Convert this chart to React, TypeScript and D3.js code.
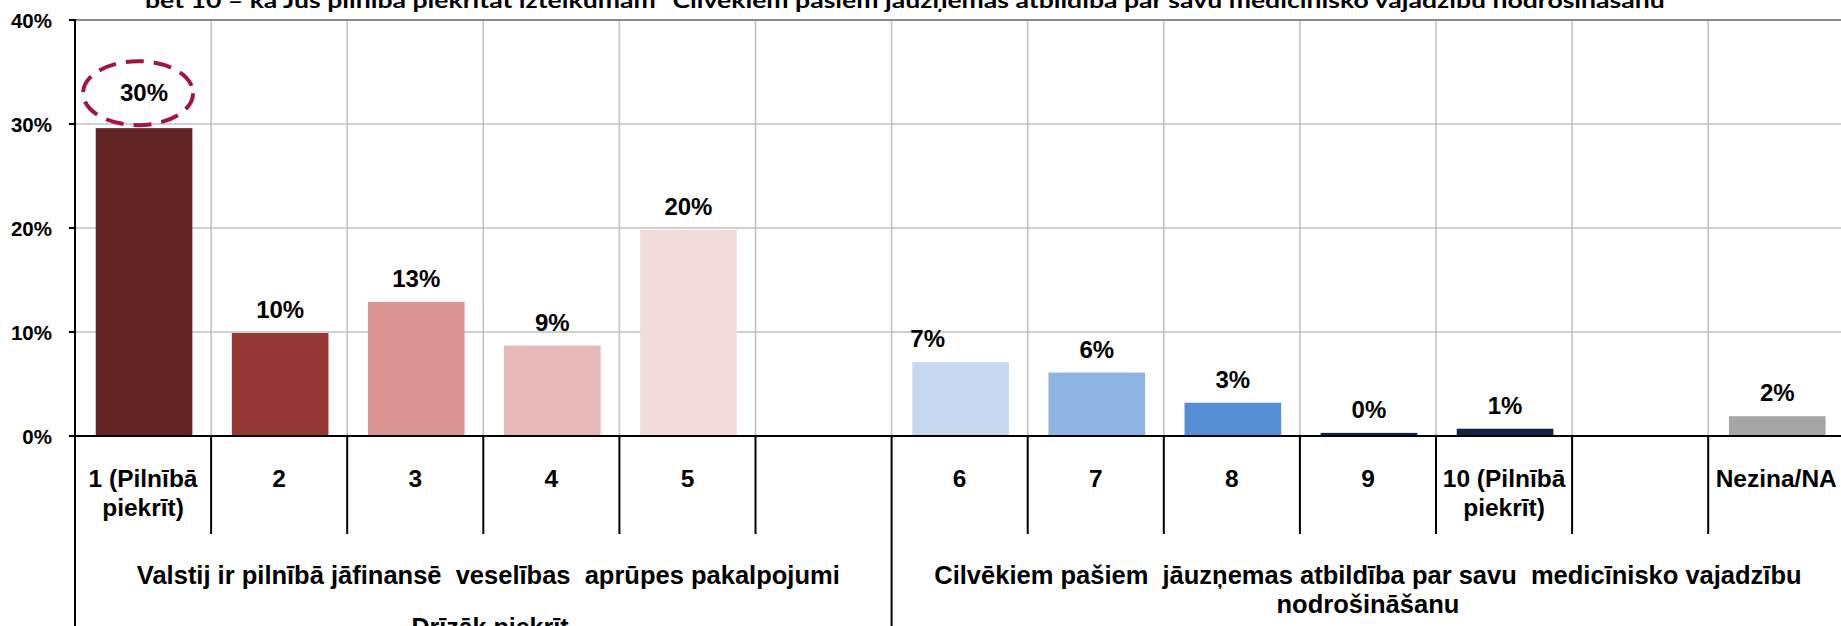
import React from "react";
import * as d3 from "d3";

const categoryKeys = ["1", "2", "3", "4", "5", "gap1", "6", "7", "8", "9", "10", "gap2", "NA"];
const categoryLines: string[][] = [
  ["1 (Pilnībā", "piekrīt)"], ["2"], ["3"], ["4"], ["5"], [],
  ["6"], ["7"], ["8"], ["9"], ["10 (Pilnībā", "piekrīt)"], [], ["Nezina/NA"],
];
const values: (number | null)[] = [29.6, 9.9, 12.9, 8.7, 19.8, null, 7.1, 6.1, 3.2, 0.3, 0.7, null, 1.9];
const valueLabels = ["30%", "10%", "13%", "9%", "20%", "", "7%", "6%", "3%", "0%", "1%", "", "2%"];
const barColors = ["#632523", "#953735", "#D99694", "#E6B9B8", "#F2DCDB", "none", "#C6D9F1", "#8EB4E3", "#558ED5", "#10253F", "#10253F", "none", "#A6A6A6"];
const yTicks = [0, 10, 20, 30, 40];
const groups = [
  { from: 0, to: 6, lines: ["Valstij ir pilnībā jāfinansē  veselības  aprūpes pakalpojumi"] },
  { from: 6, to: 13, lines: ["Cilvēkiem pašiem  jāuzņemas atbildība par savu  medicīnisko vajadzību", "nodrošināšanu"] },
];
const subGroupLabel = "Drīzāk piekrīt";
const titleText = "bet 10 – ka Jūs pilnībā piekrītat izteikumam “Cilvēkiem pašiem jāuzņemas atbildība par savu medicīnisko vajadzību nodrošināšanu”";
const highlightIndex = 0;
const shiftedLabelIndex = 6;

const W = 1841;
const H = 626;
const FONT = "'Liberation Sans', Arial, sans-serif";

export default function App() {
  const left = 75;
  const catW = 136.1;
  const x = d3.scaleBand<string>().domain(categoryKeys).range([left, left + catW * categoryKeys.length]).padding(0);
  const y = d3.scaleLinear().domain([0, 40]).range([436, 20]);
  const bw = x.bandwidth() * 0.71;
  const zeroY = y(0);
  const topY = y(40);
  const sepBottom = 534;
  const boundaries = d3.range(categoryKeys.length + 1).map((k) => left + k * x.step());

  return (
    <div style={{ position: "fixed", left: 0, top: 0, width: W, height: H, background: "#fff" }}>
      <svg width={W} height={H} style={{ display: "block" }}>
        <rect x={0} y={0} width={W} height={H} fill="#fff" />
        {/* title (clipped at top) */}
        <text x={910} y={8} textAnchor="middle" fontFamily="Lato, 'Open Sans', sans-serif" fontWeight="bold" fontSize={21}
          textLength={1530} lengthAdjust="spacingAndGlyphs" fill="#000">{titleText}</text>

        {/* horizontal gridlines */}
        {yTicks.filter((t) => t > 0 && t < 40).map((t) => (
          <line key={"h" + t} x1={left} x2={W} y1={y(t)} y2={y(t)} stroke="#C0C0C0" strokeWidth={1.5} />
        ))}
        {/* vertical gridlines */}
        {boundaries.slice(1).map((bx, i) => (
          <line key={"v" + i} x1={bx} x2={bx} y1={topY} y2={zeroY} stroke="#C0C0C0" strokeWidth={1.5} />
        ))}
        <line x1={left} x2={W} y1={topY} y2={topY} stroke="#8C8C8C" strokeWidth={2} />

        {/* bars */}
        {values.map((v, i) =>
          v == null ? null : (
            <rect key={"b" + i} x={(x(categoryKeys[i]) as number) + (x.bandwidth() - bw) / 2 + 1} y={y(v)} width={bw}
              height={zeroY - y(v)} fill={barColors[i]} />
          )
        )}

        {/* y axis */}
        <line x1={left} x2={left} y1={topY - 1} y2={zeroY} stroke="#000" strokeWidth={2} />
        {yTicks.map((t) => (
          <g key={"yt" + t}>
            <line x1={left - 6} x2={left} y1={y(t)} y2={y(t)} stroke="#000" strokeWidth={2} />
            <text x={52} y={y(t) + 7.5} textAnchor="end" fontFamily={FONT} fontWeight="bold" fontSize={20.5} fill="#000">{t}%</text>
          </g>
        ))}
        {/* x axis */}
        <line x1={left - 6} x2={W} y1={zeroY} y2={zeroY} stroke="#000" strokeWidth={2} />

        {/* category separators */}
        {boundaries.map((bx, k) => {
          const long = k === 0 || groups.some((g) => g.from === k);
          return <line key={"s" + k} x1={bx} x2={bx} y1={zeroY} y2={long ? H : sepBottom} stroke="#000" strokeWidth={2} />;
        })}

        {/* data labels */}
        {values.map((v, i) => {
          if (v == null) return null;
          const cx = (x(categoryKeys[i]) as number) + x.bandwidth() / 2 + 1 + (i === shiftedLabelIndex ? -33 : 0);
          const hi = i === highlightIndex;
          const ly = y(v) - (hi ? 27 : 15);
          return (
            <g key={"l" + i}>
              <text x={cx} y={ly} textAnchor="middle" fontFamily={FONT} fontWeight="bold" fontSize={24} fill="#000">{valueLabels[i]}</text>
              {hi && (
                <ellipse cx={cx - 6} cy={ly - 8} rx={55} ry={32} fill="none" stroke="#A0163F" strokeWidth={4}
                  strokeDasharray="18 10" />
              )}
            </g>
          );
        })}

        {/* category labels */}
        {categoryLines.map((lines, i) => (
          <text key={"c" + i} x={(x(categoryKeys[i]) as number) + x.bandwidth() / 2} y={487} textAnchor="middle"
            fontFamily={FONT} fontWeight="bold" fontSize={24.5} fill="#000">
            {lines.map((ln, j) => (
              <tspan key={j} x={(x(categoryKeys[i]) as number) + x.bandwidth() / 2} dy={j === 0 ? 0 : 28.5}>{ln}</tspan>
            ))}
          </text>
        ))}

        {/* group labels */}
        {groups.map((g, gi) => {
          const cx = (boundaries[g.from] + boundaries[g.to]) / 2 + (gi === 0 ? 5 : 0);
          return (
            <text key={"g" + gi} x={cx} y={584} textAnchor="middle" fontFamily={FONT} fontWeight="bold" fontSize={25.5}
              fill="#000" style={{ whiteSpace: "pre" }}>
              {g.lines.map((ln, j) => (
                <tspan key={j} x={cx} dy={j === 0 ? 0 : 29}>{ln}</tspan>
              ))}
            </text>
          );
        })}
        <text x={490} y={636} textAnchor="middle" fontFamily={FONT} fontWeight="bold" fontSize={25} fill="#000">{subGroupLabel}</text>
      </svg>
    </div>
  );
}
